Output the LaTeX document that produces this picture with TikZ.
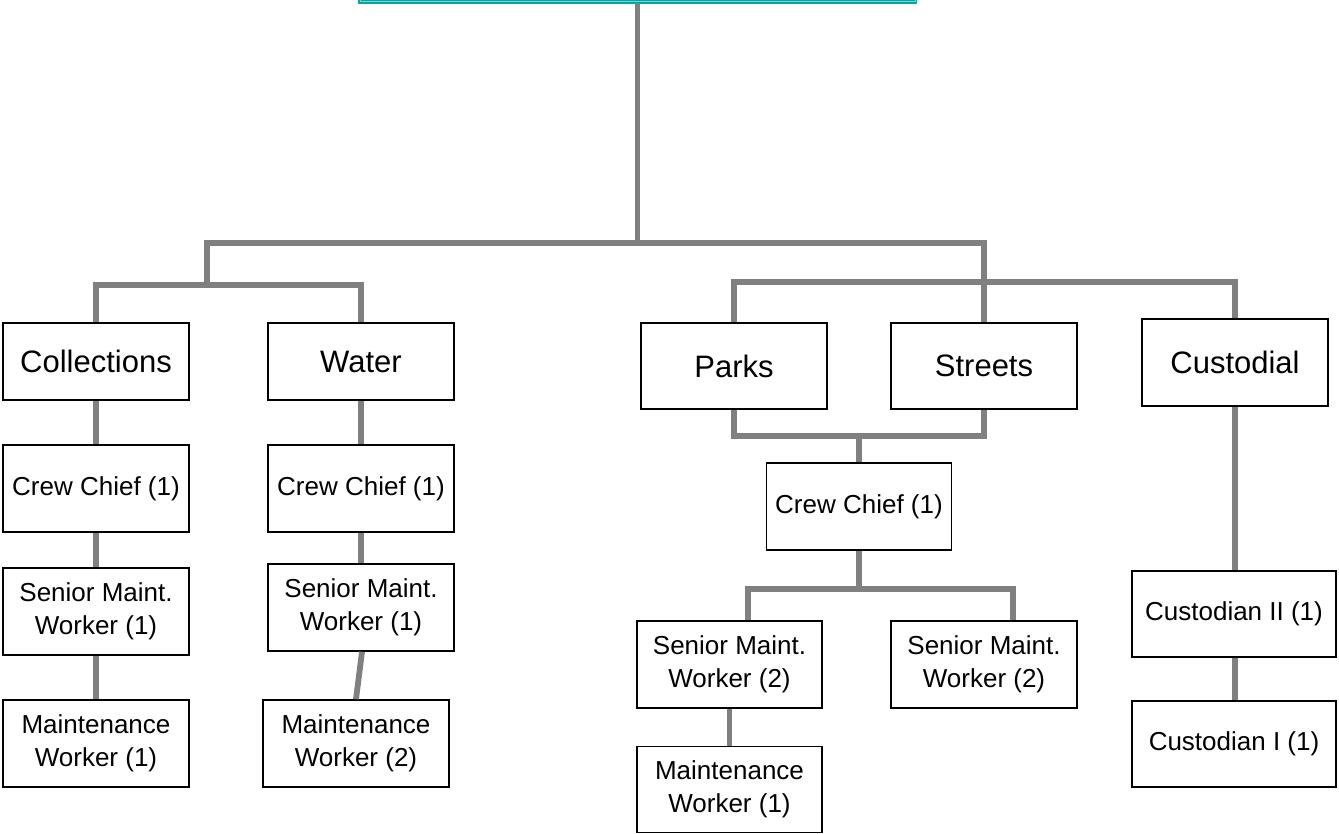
\documentclass[tikz,border=0pt]{standalone}
\usepackage{fontspec}
\setmainfont{Liberation Sans}
\definecolor{linkgray}{HTML}{808080}
\definecolor{headteal}{HTML}{1A9E9C}
\definecolor{headtealinner}{HTML}{7FD0CC}
\begin{document}
\begin{tikzpicture}[x=1pt,y=-1pt,
  box/.style={draw=black, line width=1.6pt, fill=white, align=center,
    inner sep=0pt, minimum width=186pt, minimum height=87pt},
  bigtext/.style={font=\fontsize{31}{36}\selectfont},
  smalltext/.style={font=\fontsize{26}{33}\selectfont},
  conn/.style={draw=linkgray, line width=5.8pt, line join=miter, line cap=butt},
  head/.style={draw=headteal, line width=1.2pt, double=headtealinner,
    double distance=1pt, fill=white}]
\useasboundingbox (0,0) rectangle (1339,834);
\clip (0,0) rectangle (1339,834);

% department head box (runs off the top edge)
\node[head, minimum width=555pt, minimum height=80pt, inner sep=0pt]
  (top) at (637.5,-38) {};

% divisions
\node[box, bigtext, minimum height=77pt] (coll) at (96,361.5) {Collections};
\node[box, bigtext, minimum height=77pt] (water) at (361,361.5) {Water};
\node[box, bigtext, minimum height=86pt] (parks) at (734,366) {Parks};
\node[box, bigtext, minimum height=86pt] (streets) at (984,366) {Streets};
\node[box, bigtext] (cust) at (1235,362.5) {Custodial};

% crew chiefs
\node[box, smalltext] (ccA) at (96,488.5) {Crew Chief (1)};
\node[box, smalltext] (ccB) at (361,488.5) {Crew Chief (1)};
\node[box, smalltext, minimum width=185pt] (ccC) at (859,506.5) {Crew Chief (1)};

% senior maintenance workers
\node[box, smalltext] (smA) at (96,611.5) {Senior Maint.\\Worker (1)};
\node[box, smalltext] (smB) at (361,607.5) {Senior Maint.\\Worker (1)};
\node[box, smalltext, minimum width=185pt] (smC) at (729.5,664.5) {Senior Maint.\\Worker (2)};
\node[box, smalltext] (smD) at (984,664.5) {Senior Maint.\\Worker (2)};

% maintenance workers
\node[box, smalltext] (mwA) at (96,743.5) {Maintenance\\Worker (1)};
\node[box, smalltext] (mwB) at (356,743.5) {Maintenance\\Worker (2)};
\node[box, smalltext, minimum width=185pt, minimum height=86pt] (mwC) at (729.5,789.5) {Maintenance\\Worker (1)};

% custodians
\node[box, smalltext, minimum width=204pt, minimum height=86pt] (cuB) at (1234,614) {Custodian II (1)};
\node[box, smalltext, minimum width=204pt, minimum height=86pt] (cuA) at (1234,744) {Custodian I (1)};

% junction points of the connector tree
\coordinate (trunk) at (637.5,243);
\coordinate (leftdrop) at (207,243);
\coordinate (leftbar) at (207,285);
\coordinate (rightend) at (984,243);
\coordinate (rightbar) at (984,282);
\coordinate (psbar) at (859,436);
\coordinate (crewbar) at (859,589);

% upper tree
\draw[conn] (top.south) -- (trunk);
\draw[conn] (leftbar) -- (leftdrop) -- (rightend) -- (streets.north);
\draw[conn] (coll.north) -- (coll.north |- leftbar) -- (water.north |- leftbar) -- (water.north);
\draw[conn] (parks.north) -- (parks.north |- rightbar) -- (cust.north |- rightbar) -- (cust.north);

% Collections column
\draw[conn] (coll.south) -- (ccA.north);
\draw[conn] (ccA.south) -- (smA.north);
\draw[conn] (smA.south) -- (mwA.north);

% Water column
\draw[conn] (water.south) -- (ccB.north);
\draw[conn] (ccB.south) -- (smB.north);
\draw[conn] ([xshift=1pt]smB.south) -- (mwB.north);

% Parks and Streets share a crew chief
\draw[conn] (parks.south) -- (parks.south |- psbar) -- (streets.south |- psbar) -- (streets.south);
\draw[conn] (psbar) -- (ccC.north);
\draw[conn] (ccC.south) -- (crewbar);
\draw[conn] (smC.north -| 748,0) -- (748,589) -- (1013,589) -- (smD.north -| 1013,0);
\draw[conn] (smC.south) -- (mwC.north);

% Custodial column
\draw[conn] (cust.south) -- (cust.south |- cuB.north);
\draw[conn] (cust.south |- cuB.south) -- (cust.south |- cuA.north);
\end{tikzpicture}
\end{document}
